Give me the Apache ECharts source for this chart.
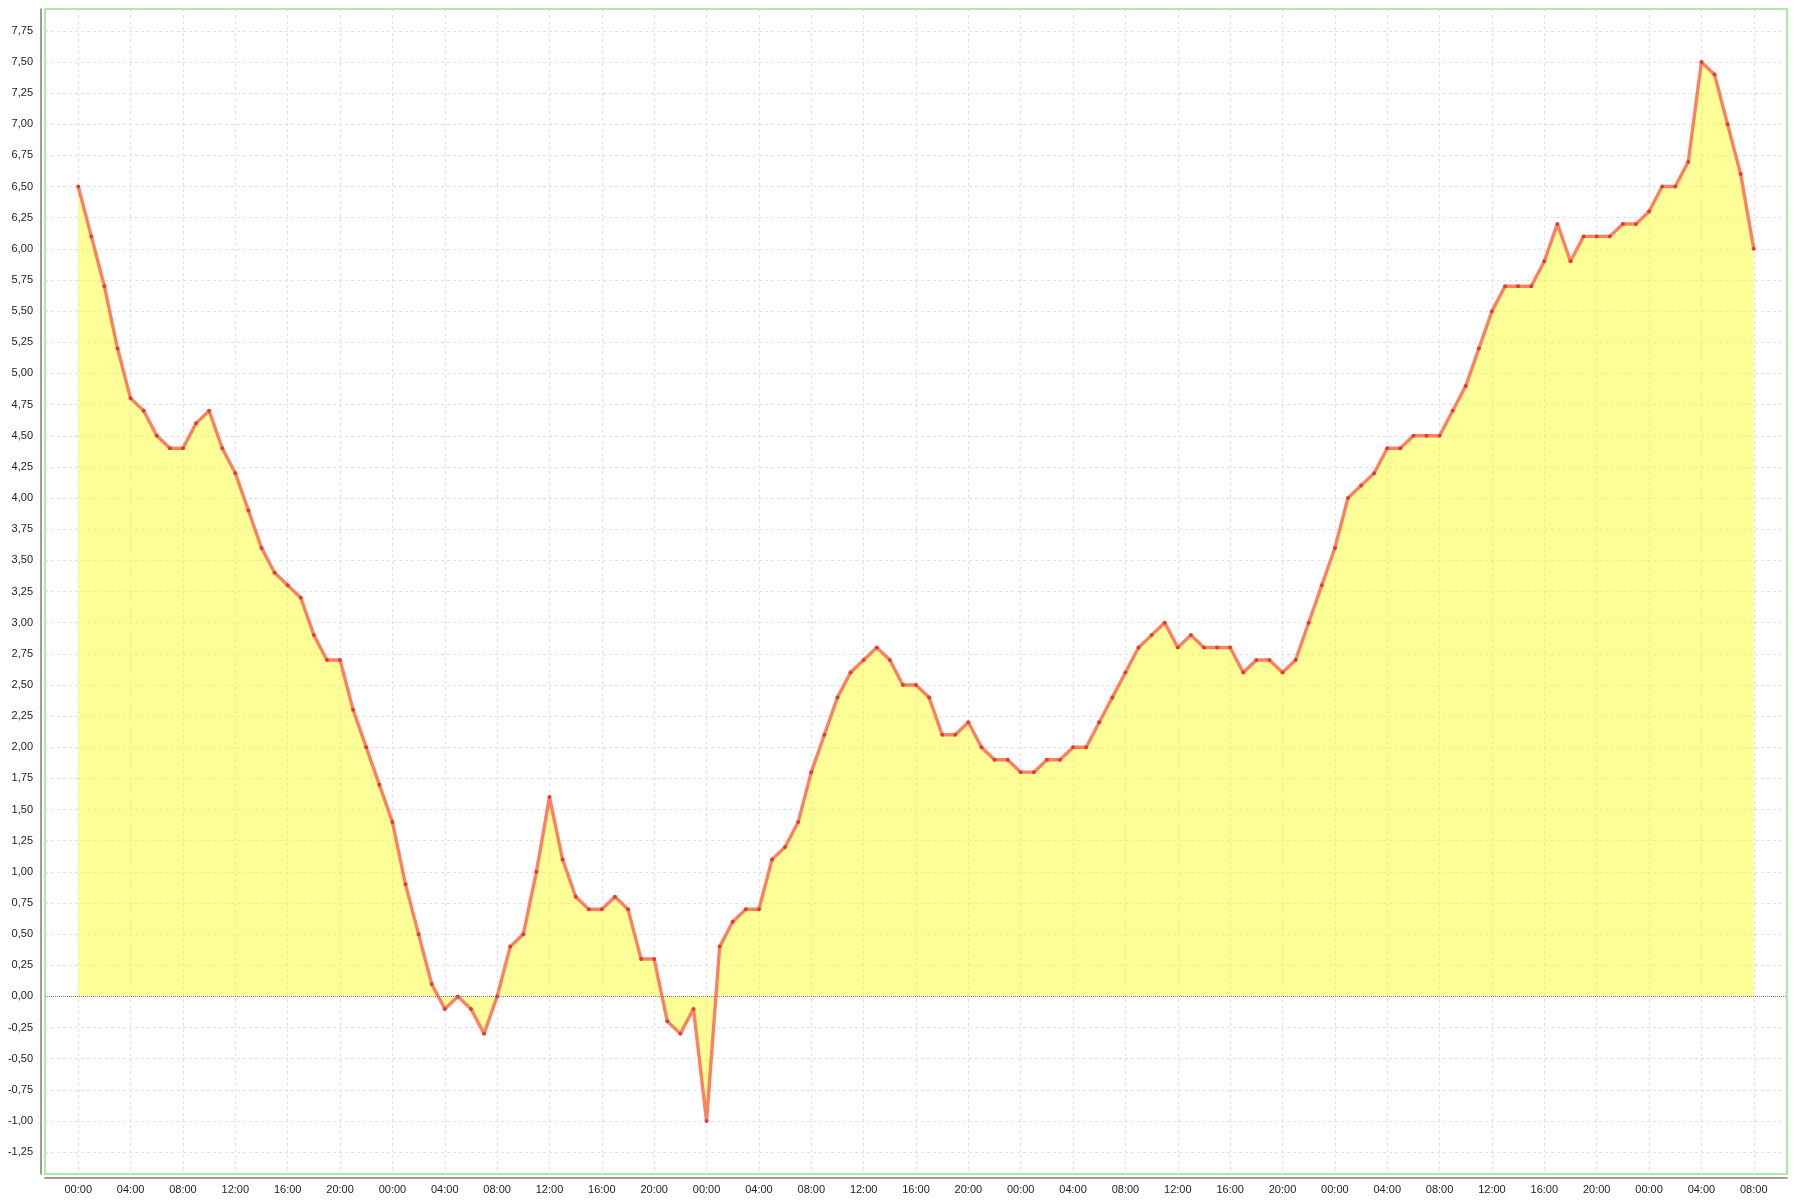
<!DOCTYPE html>
<html>
<head>
<meta charset="utf-8">
<style>
  html, body { margin: 0; padding: 0; background: #ffffff; }
  #chart { width: 1800px; height: 1200px; }
</style>
<script src="https://cdn.jsdelivr.net/npm/echarts@6/dist/echarts.min.js"></script>
</head>
<body>
<div id="chart"></div>
<script>
// Hourly values, one array per day (hour 0 = first 00:00)
const day1 = [6.5, 6.1, 5.7, 5.2, 4.8, 4.7, 4.5, 4.4, 4.4, 4.6, 4.7, 4.4, 4.2, 3.9, 3.6, 3.4, 3.3, 3.2, 2.9, 2.7, 2.7, 2.3, 2.0, 1.7];
const day2 = [1.4, 0.9, 0.5, 0.1, -0.1, 0.0, -0.1, -0.3, 0.0, 0.4, 0.5, 1.0, 1.6, 1.1, 0.8, 0.7, 0.7, 0.8, 0.7, 0.3, 0.3, -0.2, -0.3, -0.1];
const day3 = [-1.0, 0.4, 0.6, 0.7, 0.7, 1.1, 1.2, 1.4, 1.8, 2.1, 2.4, 2.6, 2.7, 2.8, 2.7, 2.5, 2.5, 2.4, 2.1, 2.1, 2.2, 2.0, 1.9, 1.9];
const day4 = [1.8, 1.8, 1.9, 1.9, 2.0, 2.0, 2.2, 2.4, 2.6, 2.8, 2.9, 3.0, 2.8, 2.9, 2.8, 2.8, 2.8, 2.6, 2.7, 2.7, 2.6, 2.7, 3.0, 3.3];
const day5 = [3.6, 4.0, 4.1, 4.2, 4.4, 4.4, 4.5, 4.5, 4.5, 4.7, 4.9, 5.2, 5.5, 5.7, 5.7, 5.7, 5.9, 6.2, 5.9, 6.1, 6.1, 6.1, 6.2, 6.2];
const day6 = [6.3, 6.5, 6.5, 6.7, 7.5, 7.4, 7.0, 6.6, 6.0];

// Y tick values
const yTicks = [-1.25, -1.0, -0.75, -0.5, -0.25, 0.0, 0.25, 0.5, 0.75, 1.0, 1.25, 1.5, 1.75, 2.0, 2.25, 2.5, 2.75, 3.0, 3.25, 3.5, 3.75, 4.0, 4.25, 4.5, 4.75, 5.0, 5.25, 5.5, 5.75, 6.0, 6.25, 6.5, 6.75, 7.0, 7.25, 7.5, 7.75];

// X tick positions (hours) and labels
const xTickHours = [0, 4, 8, 12, 16, 20, 24, 28, 32, 36, 40, 44, 48, 52, 56, 60, 64, 68, 72, 76, 80, 84, 88, 92, 96, 100, 104, 108, 112, 116, 120, 124, 128];
const xTickLabels = ["00:00", "04:00", "08:00", "12:00", "16:00", "20:00",
                     "00:00", "04:00", "08:00", "12:00", "16:00", "20:00",
                     "00:00", "04:00", "08:00", "12:00", "16:00", "20:00",
                     "00:00", "04:00", "08:00", "12:00", "16:00", "20:00",
                     "00:00", "04:00", "08:00", "12:00", "16:00", "20:00",
                     "00:00", "04:00", "08:00"];

const values = [].concat(day1, day2, day3, day4, day5, day6);
const seriesData = values.map((v, i) => [i, v]);

const labelMap = {};
xTickHours.forEach((h, i) => { labelMap[h] = xTickLabels[i]; });

const chart = echarts.init(document.getElementById('chart'), null, { renderer: 'canvas' });

const gridLine = { show: true, lineStyle: { color: '#e2e2e2', type: [3, 3], width: 1 } };
const fontFamily = '"Liberation Sans", Arial, sans-serif';

chart.setOption({
  animation: false,
  backgroundColor: '#ffffff',
  grid: {
    left: 45, right: 13, top: 9, bottom: 26,
    show: true,
    borderColor: '#8fe38f',
    borderWidth: 1.5,
    backgroundColor: 'transparent'
  },
  xAxis: {
    type: 'value',
    min: -2.54,
    max: 130.54,
    offset: 4,
    axisLine: { show: true, onZero: false, lineStyle: { color: '#857878', width: 1.5 } },
    axisTick: { show: false, customValues: xTickHours },
    splitLine: gridLine,
    axisLabel: {
      customValues: xTickHours,
      formatter: v => labelMap[Math.round(v)] || '',
      color: '#222',
      fontSize: 11,
      fontFamily: fontFamily,
      margin: 6
    }
  },
  yAxis: {
    type: 'value',
    min: -1.425,
    max: 7.925,
    offset: 4,
    axisLine: { show: true, onZero: false, lineStyle: { color: '#857878', width: 1.5 } },
    axisTick: { show: false, customValues: yTicks },
    splitLine: gridLine,
    axisLabel: {
      customValues: yTicks,
      formatter: v => v.toFixed(2).replace('.', ','),
      color: '#222',
      fontSize: 11,
      fontFamily: fontFamily,
      margin: 8
    }
  },
  series: [{
    type: 'line',
    data: seriesData,
    showSymbol: true,
    symbol: 'circle',
    symbolSize: 4,
    itemStyle: { color: '#e63b35' },
    lineStyle: { color: 'rgba(250,112,82,0.88)', width: 3.4 },
    areaStyle: { color: 'rgba(255,255,0,0.58)', origin: 0 },
    markLine: {
      silent: true,
      symbol: 'none',
      label: { show: false },
      lineStyle: { color: '#808080', type: 'dotted', width: 1 },
      data: [{ yAxis: 0 }]
    },
    z: 3
  }]
});
</script>
</body>
</html>
